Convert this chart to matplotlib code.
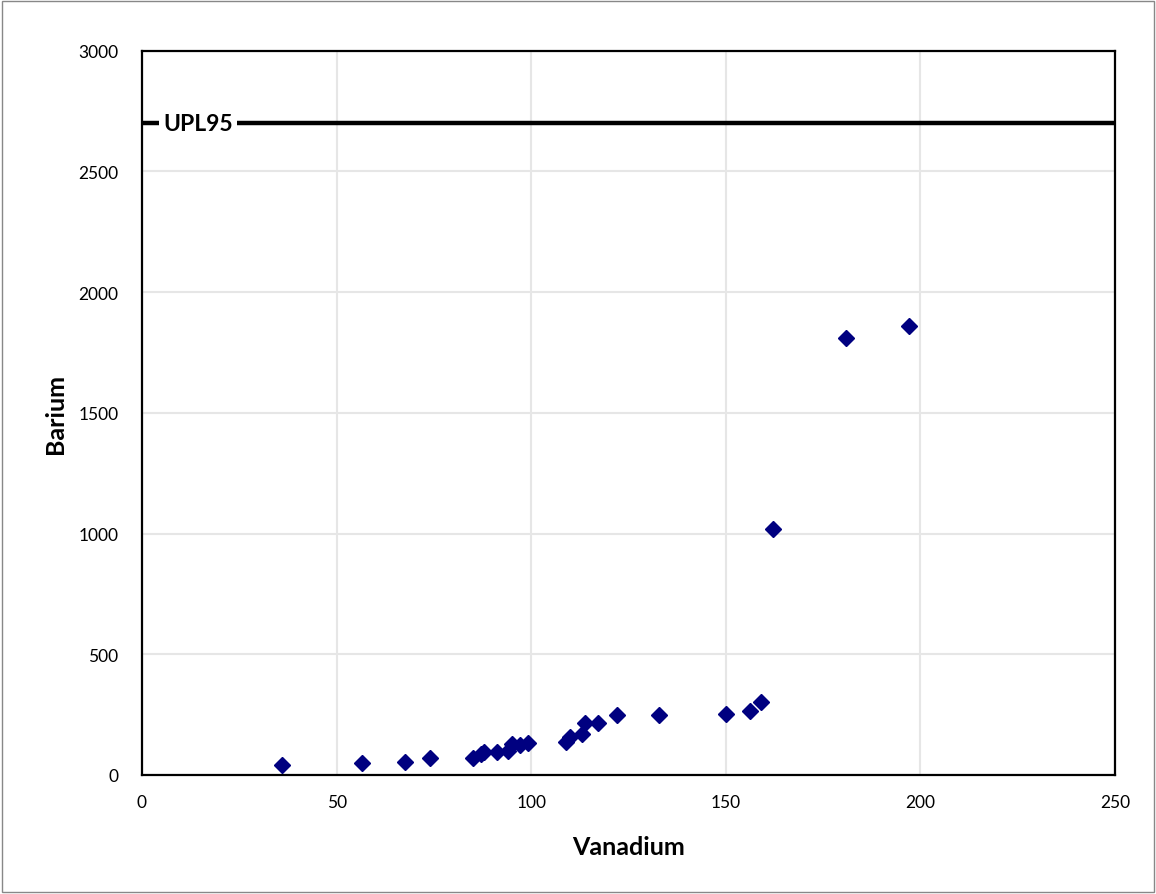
import matplotlib.pyplot as plt
from matplotlib.patches import Rectangle

plt.rcParams['font.family'] = ['Lato', 'DejaVu Sans']

vanadium = [36, 56.5, 67.7, 74.1, 85, 87, 88, 91.3, 94.1, 95, 97, 99.1,
            108.9, 110, 113, 113.8, 117.1, 122, 132.9, 150, 156.1, 159.1,
            162, 181, 197]
barium = [41, 48, 55, 69, 72, 85, 95, 94, 101, 128, 124, 134,
          138, 156, 168, 214, 217, 247, 250, 251, 265, 304,
          1018, 1808, 1859]
upl95 = 2700

fig = plt.figure(figsize=(11.56, 8.95), dpi=100)
ax = fig.add_axes([0.1228, 0.1330, 0.8418, 0.8092])

ax.grid(True, color='#e6e6e6', linewidth=1.5)
ax.set_axisbelow(True)
ax.plot(vanadium, barium, linestyle='none', marker='D', markersize=8,
        color='#000080', zorder=3)

ax.axhline(upl95, color='black', linewidth=3.2, zorder=2)
ax.text(5.5, upl95, 'UPL95', fontsize=16.5, fontweight='bold', va='center', ha='left',
        bbox=dict(facecolor='white', edgecolor='none', pad=3), zorder=4)

ax.set_xlim(0, 250)
ax.set_ylim(0, 3000)
ax.set_xticks([0, 50, 100, 150, 200, 250])
ax.set_yticks([0, 500, 1000, 1500, 2000, 2500, 3000])
ax.tick_params(length=0, labelsize=12.5)
ax.tick_params(axis='y', pad=17)
ax.tick_params(axis='x', pad=14)
for s in ax.spines.values():
    s.set_linewidth(1.6)

ax.set_xlabel('Vanadium', fontsize=18, fontweight='bold', labelpad=18)
ax.set_ylabel('Barium', fontsize=18, fontweight='bold', labelpad=8)

fig.patches.append(Rectangle((0.002, 0.002), 0.996, 0.996, transform=fig.transFigure,
                             fill=False, edgecolor='#888888', linewidth=1))

fig.savefig('out.png', dpi=100)
